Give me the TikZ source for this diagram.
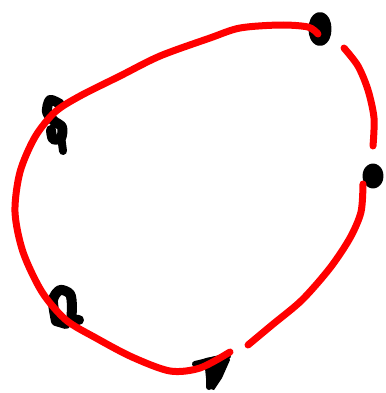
\documentclass[tikz,border=0pt]{standalone}
\begin{document}
\begin{tikzpicture}[x=1bp,y=-1bp,
  redstroke/.style={draw=red,line width=7bp,line cap=round,line join=round},
  blackstroke/.style={draw=black,line width=10bp,line cap=round,line join=round}]
\useasboundingbox (0,0) rectangle (386,393);
% black marks (under the red line)
\draw[blackstroke,line width=12bp] (320,29) ellipse [x radius=5.5, y radius=11];
\draw[blackstroke] plot[smooth] coordinates {(60,104) (50,100) (47,112) (54,121) (62,127) (61,138) (53,139) (51,130)};
\draw[blackstroke,line width=8bp] (61,136) -- (63,151);
\draw[blackstroke,line width=11bp] (373,176) ellipse [x radius=5, y radius=7];
\draw[blackstroke] plot[smooth] coordinates {(56,321) (53,300) (60,290) (70,294) (72,306) (72,318) (79,320)};
\draw[blackstroke] (56,321) -- (66,324);
\fill[black] (195,364) -- (206,358) -- (228,354) -- (230,360) -- (222,378) -- (214,390) -- (207,388) -- (205,368) -- cycle;
\draw[blackstroke,line width=6bp] (195,364) -- (228,356);
\draw[blackstroke,line width=6bp] (209,368) -- (209,387);
% red loop
\draw[redstroke] plot[smooth] coordinates {(363,184) (361,212) (350,238) (330,268) (302,300) (272,325) (248,345)};
\draw[redstroke] plot[smooth] coordinates {(230,352) (200,368) (170,371) (132,357) (96,338) (66,320) (42,292) (23,252) (15,212) (20,172) (35,137) (55,112) (80,96) (120,76) (160,56) (210,38) (240,28) (280,25) (308,27) (318,34)};
\draw[redstroke] plot[smooth] coordinates {(344,48) (358,66) (368,90) (374,118) (373,146)};
\end{tikzpicture}
\end{document}
